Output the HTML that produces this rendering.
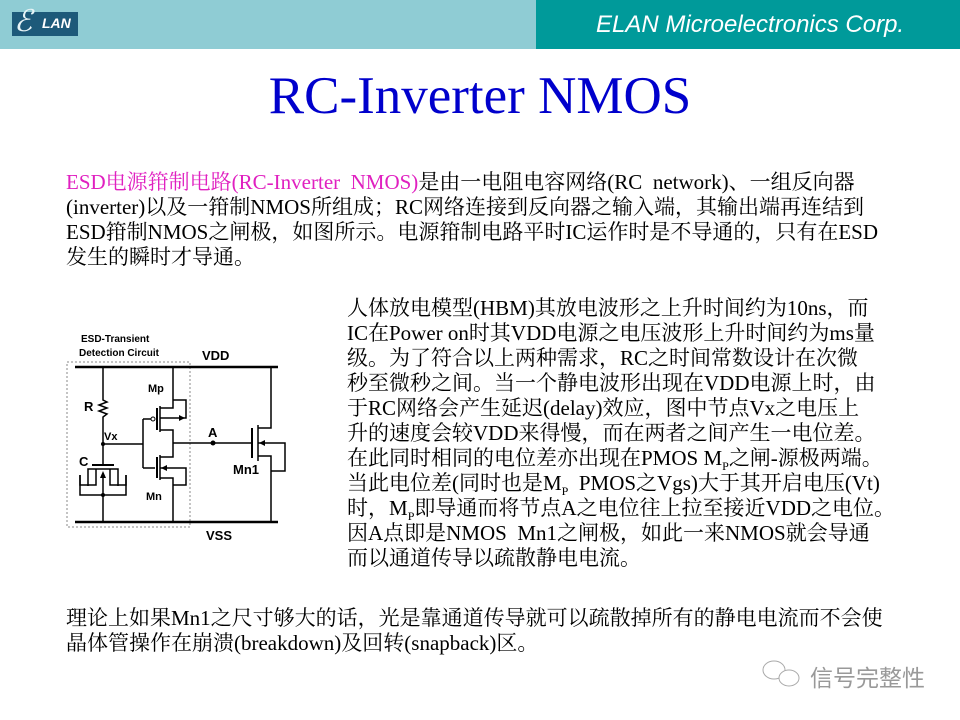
<!DOCTYPE html>
<html><head><meta charset="utf-8"><style>
body{margin:0;width:960px;height:720px;background:#fff;position:relative;overflow:hidden;font-family:"Liberation Serif","Noto Serif CJK SC",serif}
.l{position:absolute;white-space:nowrap;font-size:21px;color:#000;line-height:25px}
</style></head><body>
<div style="position:absolute;left:0;top:0;width:536px;height:49px;background:#8fccd4"></div>
<div style="position:absolute;left:536px;top:0;width:424px;height:49px;background:#009a9a"></div>
<div style="position:absolute;left:12px;top:12px;width:66px;height:24px;background:#1d5a7a"></div>
<div style="position:absolute;left:14px;top:4px;font:italic 30px 'Liberation Serif',serif;color:#e8f4f6">&#8496;</div>
<div style="position:absolute;left:42px;top:15px;font:italic bold 14px 'Liberation Sans',sans-serif;color:#fff">LAN</div>
<div style="position:absolute;left:596px;top:11px;font:italic 24px 'Liberation Sans',sans-serif;color:#fff">ELAN Microelectronics Corp.</div>
<div style="position:absolute;left:0;width:960px;top:66px;text-align:center;font-size:53px;color:#0000cc">RC-Inverter NMOS</div>
<div class="l" style="left:66px;top:170px"><span style="color:#e020c0">ESD电源箝制电路(RC-Inverter&nbsp; NMOS)</span>是由一电阻电容网络(RC&nbsp; network)、一组反向器</div>
<div class="l" style="left:66px;top:195px">(inverter)以及一箝制NMOS所组成；RC网络连接到反向器之输入端，其输出端再连结到</div>
<div class="l" style="left:66px;top:220px">ESD箝制NMOS之闸极，如图所示。电源箝制电路平时IC运作时是不导通的，只有在ESD</div>
<div class="l" style="left:66px;top:245px">发生的瞬时才导通。</div>
<div class="l" style="left:347px;top:296px">人体放电模型(HBM)其放电波形之上升时间约为10ns，而</div>
<div class="l" style="left:347px;top:321px">IC在Power on时其VDD电源之电压波形上升时间约为ms量</div>
<div class="l" style="left:347px;top:346px">级。为了符合以上两种需求，RC之时间常数设计在次微</div>
<div class="l" style="left:347px;top:371px">秒至微秒之间。当一个静电波形出现在VDD电源上时，由</div>
<div class="l" style="left:347px;top:396px">于RC网络会产生延迟(delay)效应，图中节点Vx之电压上</div>
<div class="l" style="left:347px;top:421px">升的速度会较VDD来得慢，而在两者之间产生一电位差。</div>
<div class="l" style="left:347px;top:446px">在此同时相同的电位差亦出现在PMOS M<sub style="font-size:12px">P</sub>之闸-源极两端。</div>
<div class="l" style="left:347px;top:471px">当此电位差(同时也是M<sub style="font-size:12px">P</sub>&nbsp; PMOS之Vgs)大于其开启电压(Vt)</div>
<div class="l" style="left:347px;top:496px">时，M<sub style="font-size:12px">P</sub>即导通而将节点A之电位往上拉至接近VDD之电位。</div>
<div class="l" style="left:347px;top:521px">因A点即是NMOS&nbsp; Mn1之闸极，如此一来NMOS就会导通</div>
<div class="l" style="left:347px;top:546px">而以通道传导以疏散静电电流。</div>
<div class="l" style="left:66px;top:606px">理论上如果Mn1之尺寸够大的话，光是靠通道传导就可以疏散掉所有的静电电流而不会使</div>
<div class="l" style="left:66px;top:631px">晶体管操作在崩溃(breakdown)及回转(snapback)区。</div>
<svg style="position:absolute;left:0;top:0" width="960" height="720" font-family="Liberation Sans,sans-serif" font-weight="bold">
<rect x="67" y="362" width="123" height="165" fill="none" stroke="#888" stroke-dasharray="2,2" stroke-width="1"/>
<g stroke="#000" stroke-width="1.5" fill="none">
<line x1="75" y1="367" x2="278" y2="367" stroke-width="2.5"/>
<line x1="75" y1="522" x2="278" y2="522" stroke-width="2.5"/>
<polyline points="103,367 103,400 107,402 99,405 107,408 99,411 107,414 103,417 103,464"/>
<line x1="92" y1="465" x2="114" y2="465" stroke-width="2"/>
<polyline points="88,486 88,469 118,469 118,486"/>
<polyline points="80,475 80,485 96,485 96,469"/>
<polyline points="126,475 126,485 110,485 110,469"/>
<polyline points="80,475 80,495 126,495 126,475"/>
<line x1="103" y1="495" x2="103" y2="522"/>
<line x1="103" y1="478" x2="103" y2="495"/>
<line x1="103" y1="444" x2="143" y2="444"/>
<line x1="143" y1="419" x2="143" y2="468"/>
<line x1="143" y1="419" x2="151" y2="419"/>
<line x1="143" y1="468" x2="155" y2="468"/>
<line x1="157" y1="408" x2="157" y2="430" stroke-width="2"/>
<line x1="157" y1="457" x2="157" y2="478" stroke-width="2"/>
<line x1="160" y1="406" x2="160" y2="432"/>
<line x1="160" y1="455" x2="160" y2="480"/>
<polyline points="160,408 173,408 173,367"/>
<polyline points="173,400 186,400 186,418 160,418"/>
<polyline points="160,430 173,430 173,457 160,457"/>
<polyline points="160,468 186,468 186,485 173,485"/>
<polyline points="160,478 173,478 173,522"/>
<line x1="173" y1="443" x2="252" y2="443"/>
<line x1="252" y1="428" x2="252" y2="458" stroke-width="2"/>
<line x1="258" y1="425" x2="258" y2="461"/>
<polyline points="258,428 271,428 271,367"/>
<polyline points="258,456 271,456 271,522"/>
<polyline points="258,443 285,443 285,471 271,471"/>
</g>
<circle cx="103" cy="444" r="2"/><circle cx="103" cy="495" r="2"/>
<circle cx="153" cy="419" r="2" fill="#fff" stroke="#000"/>
<circle cx="213" cy="443" r="2.5"/>
<polygon points="185,418 179,415 179,421"/><polygon points="161,468 167,465 167,471"/>
<polygon points="259,443 265,440 265,446"/><polygon points="103,471 100,478 106,478"/>
<g font-size="10"><text x="81" y="342">ESD-Transient</text><text x="79" y="356">Detection Circuit</text></g>
<g font-size="13"><text x="202" y="360">VDD</text><text x="206" y="540">VSS</text><text x="233" y="474">Mn1</text>
<text x="84" y="411">R</text><text x="79" y="466">C</text><text x="208" y="437">A</text></g>
<g font-size="11"><text x="148" y="392">Mp</text><text x="146" y="500">Mn</text><text x="104" y="440">Vx</text></g>
<g fill="none" stroke="#aaa" stroke-width="1"><ellipse cx="774" cy="670" rx="11" ry="9"/><ellipse cx="789" cy="678" rx="10" ry="8" fill="#fff"/></g>
</svg>
<div style="position:absolute;left:810px;top:661px;font:23px 'Noto Sans CJK SC',sans-serif;color:#999;line-height:30px">信号完整性</div>
</body></html>
